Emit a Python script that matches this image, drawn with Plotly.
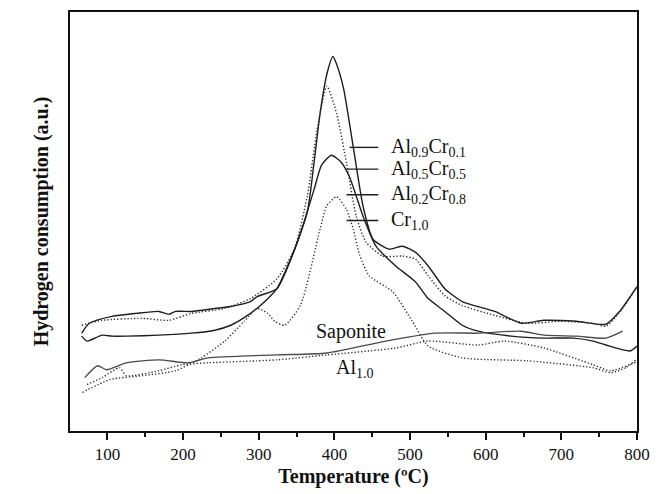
import plotly.graph_objects as go

# Temperature (°C) and hydrogen consumption (a.u.)
al09_t = [66, 76, 106, 138, 168, 181, 190, 211, 242, 263, 289, 298, 324, 341, 364, 373, 381, 390, 398, 403, 412, 425, 438, 451, 472, 490, 507, 524, 546, 569, 612, 647, 677, 720, 759, 777, 800]
al09_y = [99, 109, 116, 119, 121, 118, 121, 121, 124, 126, 131, 136, 144, 171, 221, 271, 321, 361, 379, 371, 347, 287, 227, 194, 184, 187, 181, 167, 144, 131, 121, 109, 112, 111, 108, 121, 146]

al05_t = [66, 93, 146, 181, 211, 255, 289, 324, 347, 364, 377, 390, 403, 416, 429, 442, 464, 490, 507, 524, 546, 569, 612, 655, 699, 742, 759, 781, 800]
al05_y = [107, 112, 114, 112, 119, 124, 134, 154, 184, 237, 304, 349, 321, 271, 217, 191, 177, 177, 174, 157, 137, 127, 117, 109, 111, 109, 106, 124, 146]

al02_t = [66, 73, 93, 106, 125, 168, 211, 242, 263, 289, 308, 324, 351, 373, 383, 396, 409, 420, 438, 455, 481, 507, 524, 546, 569, 590, 634, 677, 716, 742, 759, 791, 800]
al02_y = [96, 91, 97, 96, 96, 97, 99, 102, 107, 119, 131, 144, 191, 244, 269, 279, 272, 257, 217, 187, 167, 151, 134, 121, 107, 101, 96, 94, 94, 91, 87, 81, 86]

cr10_t = [67, 103, 146, 190, 224, 255, 281, 298, 312, 321, 334, 355, 381, 390, 403, 416, 425, 433, 446, 477, 503, 524, 569, 655, 742, 765, 785, 800]
cr10_y = [39, 52, 56, 61, 74, 91, 111, 124, 119, 111, 107, 127, 204, 228, 237, 224, 204, 179, 157, 141, 111, 86, 74, 71, 64, 59, 64, 73]

sap_t = [70, 87, 99, 125, 168, 207, 233, 324, 390, 468, 533, 590, 647, 677, 720, 759, 781]
sap_y = [54, 66, 62, 69, 72, 69, 74, 77, 79, 91, 99, 99, 101, 97, 96, 94, 101]

al10_t = [73, 93, 116, 125, 168, 198, 233, 298, 324, 390, 481, 524, 590, 625, 677, 742, 765, 800]
al10_y = [47, 54, 64, 56, 61, 67, 69, 71, 72, 77, 84, 91, 87, 91, 84, 67, 61, 70]

x_ticks = [100, 200, 300, 400, 500, 600, 700, 800]

DOT = "1.3px,2px"
series = [
    (al09_t, al09_y, "solid", "#1e1e1e", "Al0.9Cr0.1"),
    (al05_t, al05_y, DOT, "#2a2a2a", "Al0.5Cr0.5"),
    (al02_t, al02_y, "solid", "#1e1e1e", "Al0.2Cr0.8"),
    (cr10_t, cr10_y, DOT, "#333333", "Cr1.0"),
    (sap_t, sap_y, "solid", "#4a4a4a", "Saponite"),
    (al10_t, al10_y, DOT, "#333333", "Al1.0"),
]

fig = go.Figure()
for t, y, dash, col, name in series:
    fig.add_trace(go.Scatter(x=t, y=y, mode="lines", name=name,
                             line=dict(color=col, width=1.4, dash=dash,
                                       shape="spline", smoothing=0.6)))

serif = "Liberation Serif"

labels = [
    ("Al<sub>0.9</sub>Cr<sub>0.1</sub>", 287),
    ("Al<sub>0.5</sub>Cr<sub>0.5</sub>", 265),
    ("Al<sub>0.2</sub>Cr<sub>0.8</sub>", 239),
    ("Cr<sub>1.0</sub>", 213),
]
line_start = [420, 416, 416, 416]
for (txt, yv), xs in zip(labels, line_start):
    fig.add_shape(type="line", x0=xs, x1=458, y0=yv, y1=yv,
                  line=dict(color="#1e1e1e", width=1.4))
    fig.add_annotation(x=472, y=yv, text=txt, showarrow=False,
                       xanchor="left", yanchor="middle",
                       font=dict(family=serif, size=20, color="#111"))

fig.add_annotation(x=373, y=101, text="Saponite", showarrow=False,
                   xanchor="left", yanchor="middle",
                   font=dict(family=serif, size=20, color="#111"))
fig.add_annotation(x=399, y=63, text="Al<sub>1.0</sub>", showarrow=False,
                   xanchor="left", yanchor="middle",
                   font=dict(family=serif, size=20, color="#111"))

fig.update_layout(
    width=660, height=494,
    margin=dict(l=70, r=16, t=10, b=60),
    paper_bgcolor="white", plot_bgcolor="white",
    showlegend=False,
    font=dict(family=serif, color="#111"),
)
fig.update_xaxes(
    range=[50.5, 800], tickvals=x_ticks, ticks="outside", ticklen=7,
    tickwidth=1.5, tickcolor="#111",
    minor=dict(ticks="outside", ticklen=4, tickwidth=1.5, tickcolor="#111", dtick=50, tick0=0),
    showline=True, linecolor="#111", linewidth=2, mirror=True,
    showgrid=False, zeroline=False,
    tickfont=dict(family=serif, size=17, color="#111"),
    title=dict(text="<b>Temperature (ºC)</b>", font=dict(family=serif, size=20, color="#111"), standoff=6),
)
fig.update_yaxes(
    range=[0, 424], showticklabels=False, ticks="",
    showline=True, linecolor="#111", linewidth=2, mirror=True,
    showgrid=False, zeroline=False,
    title=dict(text="<b>Hydrogen consumption (a.u.)</b>", font=dict(family=serif, size=20, color="#111"), standoff=14),
)

fig.write_html("out.html")
